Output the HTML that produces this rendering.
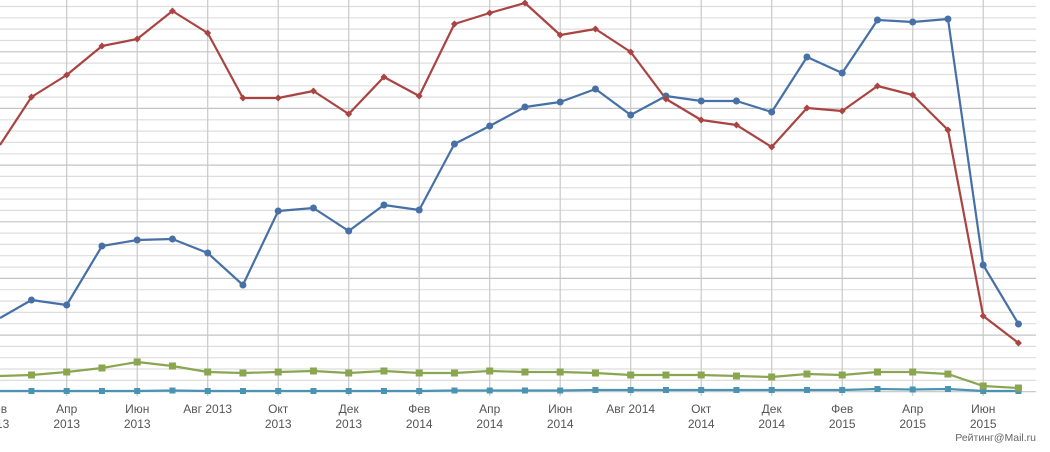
<!DOCTYPE html>
<html><head><meta charset="utf-8"><style>
html,body{margin:0;padding:0;background:#fff;width:1050px;height:452px;overflow:hidden}
svg{display:block}
text{font-family:"Liberation Sans","DejaVu Sans",sans-serif;fill:#555;font-size:12px}
</style></head><body>
<svg id="c" width="1050" height="452" xmlns="http://www.w3.org/2000/svg"></svg>
<script>
var s=document.getElementById('c'),h='';
for(var k=0;k<=34;k++){var y=391.7-11.33*k;h+='<line x1="0" x2="1036" y1="'+y.toFixed(1)+'" y2="'+y.toFixed(1)+'" stroke="'+(k%5==0?'#c4c4c4':'#dedede')+'" stroke-width="1.2"/>';}
var X=function(i){return 66.7+35.25*(i-2);};
for(var i=2;i<=28;i+=2){var x=X(i);h+='<line x1="'+x+'" x2="'+x+'" y1="0" y2="396" stroke="#c8c8c8" stroke-width="1.2"/>';}
var red=[145,97,75,46,39,11,33,98,98,91,114,77,96,24,13,3,35,29,52,99,120,125,147,108,111,86,95,130,316,343];
var blue=[318,300,305,246,240,239,253,285,211,208,231,205,210,144,126,107,102,89,115,96,101,101,112,57,73,20,22,19,265,324];
var green=[376,375,372,368,362,366,372,373,372,371,373,371,373,373,371,372,372,373,375,375,375,376,377,374,375,372,372,374,386,388];
var teal=[391,391,391,391,391,390.5,391,391,391,391,391,391,391,390.5,390.5,390.5,390.5,390,390,390,390,390,390,390,390,389,389.5,389,391,391];
function xs(i){return i==0?0:X(i);}
function line(d,c){var p=d.map(function(v,i){return xs(i).toFixed(1)+','+v;}).join(' ');return '<polyline points="'+p+'" fill="none" stroke="'+c+'" stroke-width="2.2" stroke-linejoin="round"/>';}
h+=line(teal,'#4a93b3')+line(green,'#8aa650')+line(blue,'#4670a6')+line(red,'#a94442');
for(var i=1;i<30;i++){var x=X(i);
h+='<rect x="'+(x-3)+'" y="'+(teal[i]-3)+'" width="6" height="6" fill="#4a93b3"/>';
h+='<rect x="'+(x-3.5)+'" y="'+(green[i]-3.5)+'" width="7" height="7" fill="#8aa650"/>';
h+='<circle cx="'+x+'" cy="'+blue[i]+'" r="3.5" fill="#4670a6"/>';
h+='<path d="M'+x+' '+(red[i]-3.5)+'L'+(x+3.5)+' '+red[i]+'L'+x+' '+(red[i]+3.5)+'L'+(x-3.5)+' '+red[i]+'Z" fill="#a94442"/>';}
var L=[[2,'Апр','2013'],[4,'Июн','2013'],[6,'Авг 2013',''],[8,'Окт','2013'],[10,'Дек','2013'],[12,'Фев','2014'],[14,'Апр','2014'],[16,'Июн','2014'],[18,'Авг 2014',''],[20,'Окт','2014'],[22,'Дек','2014'],[24,'Фев','2015'],[26,'Апр','2015'],[28,'Июн','2015']];
L.forEach(function(l){var x=X(l[0]);h+='<text x="'+x+'" y="413" text-anchor="middle">'+l[1]+'</text>';if(l[2])h+='<text x="'+x+'" y="428" text-anchor="middle">'+l[2]+'</text>';});
h+='<text x="-4" y="413" text-anchor="middle">Фев</text><text x="-4" y="428" text-anchor="middle">2013</text>';
h+='<text x="1036" y="441" text-anchor="end" style="font-size:10.5px;fill:#666">Рейтинг@Mail.ru</text>';
s.innerHTML=h;
</script>
</body></html>
